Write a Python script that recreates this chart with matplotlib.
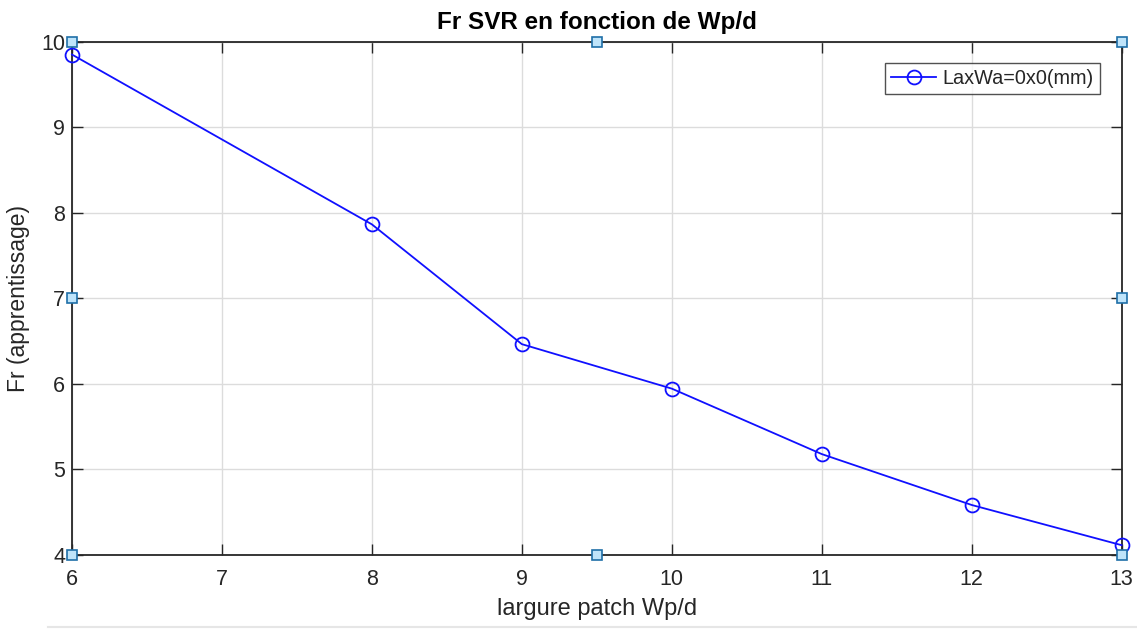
import numpy as np
import matplotlib
matplotlib.use('Agg')
import matplotlib.pyplot as plt
from matplotlib.lines import Line2D

matplotlib.rcParams['font.family'] = ['Liberation Sans', 'DejaVu Sans']

# patch width vs training Fr
wp_d = [6, 8, 9, 10, 11, 12, 13]
fr_train = [9.85, 7.865, 6.465, 5.945, 5.18, 4.585, 4.115]
series_label = 'LaxWa=0x0(mm)'

x_ticks = [6, 7, 8, 9, 10, 11, 12, 13]
y_ticks = [4, 5, 6, 7, 8, 9, 10]

axis_col = '#262626'

fig = plt.figure(figsize=(11.37, 6.29), dpi=100)
ax = fig.add_axes([0.0633, 0.1176, 0.9865 - 0.0633, 0.9337 - 0.1176])

ax.plot(wp_d, fr_train, color='#1010ff', lw=1.3, marker='o', ms=10, mfc='none', mew=1.3,
        label=series_label, clip_on=False, zorder=3)

ax.set_xlim(6, 13)
ax.set_ylim(4, 10)
ax.set_xticks(x_ticks)
ax.set_yticks(y_ticks)
ax.grid(True, color='#dcdcdc', lw=1)
ax.set_axisbelow(True)
ax.tick_params(direction='in', length=8, width=1, colors=axis_col, labelsize=15.5,
               top=True, right=True)
ax.tick_params(axis='x', pad=10)
ax.tick_params(axis='y', pad=5)
for sp in ax.spines.values():
    sp.set_color(axis_col)
    sp.set_linewidth(1.3)

ax.set_title('Fr SVR en fonction de Wp/d', fontsize=17.5, fontweight='bold', color='black', pad=9)
ax.set_xlabel('largure patch Wp/d', fontsize=17, color=axis_col, labelpad=6)
ax.set_ylabel('Fr (apprentissage)', fontsize=16.5, color=axis_col, labelpad=8)

leg = ax.legend(loc='upper right', bbox_to_anchor=(0.979, 0.959), borderaxespad=0,
                fancybox=False, edgecolor=axis_col, fontsize=14.3, handlelength=2.3,
                handletextpad=0.3, borderpad=0.3)
leg.get_frame().set_linewidth(1.0)
for t in leg.get_texts():
    t.set_color(axis_col)

# edit handles around the axes box
hx = [0, 0.5, 1, 0, 1, 0, 0.5, 1]
hy = [0, 0, 0, 0.5, 0.5, 1, 1, 1]
ax.plot(hx, hy, ls='none', marker='s', ms=7.5, mfc='#bfe4fa', mec='#1f6fa8', mew=1.2,
        transform=ax.transAxes, clip_on=False, zorder=5)

fig.add_artist(Line2D([48 / 1137, 1], [1 - 627 / 629] * 2, color='#e6e6e6', lw=1.5))

fig.savefig('out.png', dpi=100)
